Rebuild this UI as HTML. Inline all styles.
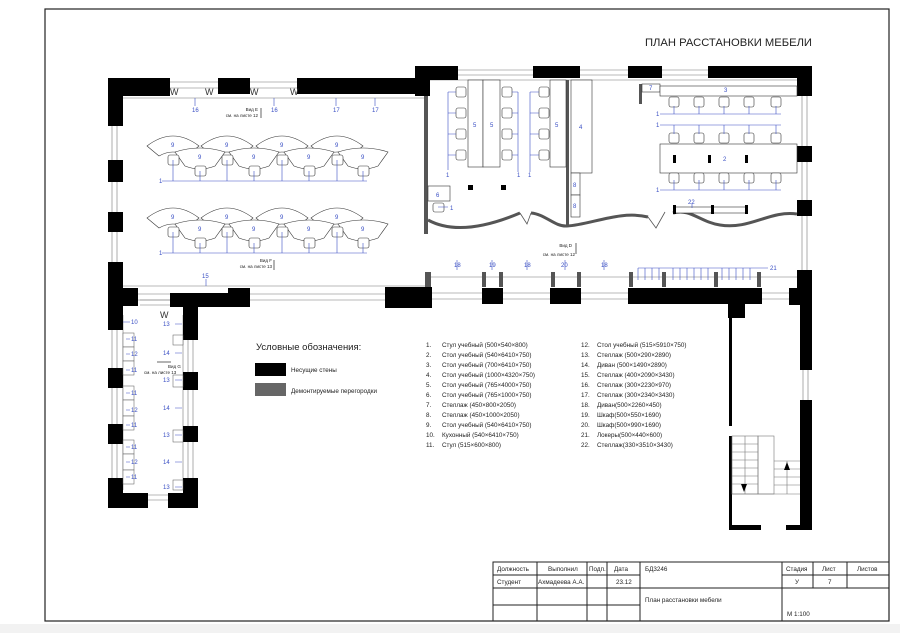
<!DOCTYPE html>
<html><head><meta charset="utf-8"><style>
html,body{margin:0;padding:0;background:#fff}
svg{display:block}
text{font-family:"Liberation Sans","DejaVu Sans",sans-serif}
.b{fill:#3a4fc4;font-size:6px}
.k{fill:#222;font-size:6.3px}
.s{fill:#222;font-size:4.5px}
</style></head><body>
<svg width="900" height="633" viewBox="0 0 900 633" xmlns="http://www.w3.org/2000/svg">
<rect x="0" y="624" width="900" height="9" fill="#f2f2f2"/>
<rect x="45" y="9" width="844" height="612" fill="none" stroke="#222" stroke-width="1.2"/>
<text x="645" y="46" font-size="11" fill="#222" textLength="167" lengthAdjust="spacingAndGlyphs">ПЛАН РАССТАНОВКИ МЕБЕЛИ</text>

<g stroke="#777" stroke-width="0.6" fill="none">
<line x1="108" y1="82" x2="430" y2="82"/><line x1="108" y1="88" x2="430" y2="88"/>
<line x1="415" y1="70" x2="812" y2="70"/><line x1="415" y1="75" x2="812" y2="75"/>
<line x1="112" y1="96" x2="112" y2="300"/><line x1="117" y1="96" x2="117" y2="300"/>
<line x1="802" y1="66" x2="802" y2="300"/><line x1="807" y1="66" x2="807" y2="300"/>
<line x1="123" y1="98" x2="425" y2="98"/>
<line x1="123" y1="286" x2="430" y2="286"/>
<line x1="108" y1="294" x2="430" y2="294"/><line x1="108" y1="300" x2="430" y2="300"/>
<line x1="430" y1="277" x2="797" y2="277"/>
<line x1="430" y1="293" x2="790" y2="293"/><line x1="430" y1="299" x2="790" y2="299"/>
<line x1="430" y1="80" x2="797" y2="80"/>
<line x1="112" y1="305" x2="112" y2="490"/><line x1="117" y1="305" x2="117" y2="490"/>
<line x1="188" y1="305" x2="188" y2="490"/><line x1="193" y1="305" x2="193" y2="490"/>
<line x1="123" y1="315" x2="123" y2="490"/><line x1="183" y1="315" x2="183" y2="490"/>
<line x1="803" y1="370" x2="803" y2="400"/><line x1="808" y1="370" x2="808" y2="400"/>
<line x1="148" y1="495" x2="168" y2="495"/><line x1="148" y1="500" x2="168" y2="500"/>
<line x1="140" y1="300" x2="170" y2="300"/><line x1="140" y1="305" x2="170" y2="305"/>
</g>
<g fill="#000">
<rect x="108" y="78" width="62" height="18"/><rect x="218" y="78" width="32" height="16"/>
<rect x="297" y="78" width="133" height="16"/>
<rect x="415" y="66" width="43" height="14"/><rect x="415" y="66" width="15" height="30"/>
<rect x="533" y="66" width="47" height="12"/><rect x="628" y="66" width="34" height="12"/>
<rect x="708" y="66" width="104" height="12"/><rect x="797" y="66" width="15" height="30"/>
<rect x="108" y="78" width="15" height="48"/><rect x="108" y="160" width="15" height="22"/>
<rect x="108" y="212" width="15" height="20"/><rect x="108" y="262" width="15" height="26"/>
<rect x="797" y="146" width="15" height="16"/><rect x="797" y="200" width="15" height="16"/>
<rect x="797" y="270" width="15" height="35"/>
<rect x="108" y="288" width="30" height="18"/><rect x="170" y="293" width="80" height="14"/>
<rect x="228" y="288" width="22" height="8"/>
<rect x="385" y="287" width="47" height="21"/><rect x="482" y="288" width="21" height="16"/>
<rect x="550" y="288" width="31" height="16"/><rect x="628" y="288" width="134" height="16"/>
<rect x="728" y="304" width="17" height="14"/>
<rect x="789" y="288" width="23" height="17"/>
<rect x="108" y="305" width="15" height="25"/><rect x="183" y="305" width="15" height="35"/>
<rect x="108" y="368" width="15" height="20"/><rect x="183" y="372" width="15" height="18"/>
<rect x="108" y="424" width="15" height="20"/><rect x="183" y="426" width="15" height="16"/>
<rect x="108" y="478" width="15" height="30"/><rect x="183" y="478" width="15" height="30"/>
<rect x="108" y="493" width="40" height="15"/><rect x="168" y="493" width="30" height="15"/>
<rect x="729" y="318" width="3" height="108"/><rect x="729" y="436" width="3" height="94"/>
<rect x="800" y="300" width="12" height="70"/><rect x="800" y="400" width="12" height="130"/>
<rect x="729" y="525" width="32" height="5"/><rect x="786" y="525" width="26" height="5"/>
</g>
<g font-size="9" fill="#333" font-family="Liberation Sans">
<text x="170" y="95">W</text><text x="205" y="95">W</text><text x="250" y="95">W</text><text x="290" y="95">W</text>
<text x="160" y="318">W</text>
</g>
<g fill="#555">
<rect x="424" y="96" width="4" height="138"/><rect x="566" y="80" width="3" height="145"/>
<rect x="639" y="84" width="3" height="20"/>
<rect x="425" y="272" width="6" height="15"/><rect x="482" y="272" width="4" height="15"/><rect x="499" y="272" width="4" height="15"/>
<rect x="551" y="272" width="4" height="15"/><rect x="577" y="272" width="4" height="15"/><rect x="629" y="272" width="4" height="15"/>
<rect x="662" y="272" width="4" height="15"/><rect x="714" y="272" width="4" height="15"/><rect x="757" y="272" width="4" height="15"/>
</g>
<path d="M428 220 C450 232,480 230,520 213 M531 213 C545 214,555 227,567 226 C590 225,620 210,648 217 M673 213 C690 208,700 222,720 225 C750 230,770 210,797 214" fill="none" stroke="#555" stroke-width="3"/>
<path d="M520 213 L527 224 L531 213 M648 217 L656 228 L665 212" fill="none" stroke="#555" stroke-width="0.8"/>

<g fill="#fff" stroke="#333" stroke-width="0.6">
<g id="row">
<path d="M147 146 Q173 126 199 146 L187 156 Q173 148 159 156 Z"/>
<path d="M201 146 Q227 126 253 146 L241 156 Q227 148 213 156 Z"/>
<path d="M256 146 Q282 126 308 146 L296 156 Q282 148 268 156 Z"/>
<path d="M311 146 Q337 126 363 146 L351 156 Q337 148 323 156 Z"/>
<path d="M175 152 Q200 144 225 152 L215 166 Q200 172 185 166 Z"/>
<path d="M229 152 Q254 144 279 152 L269 166 Q254 172 239 166 Z"/>
<path d="M284 152 Q309 144 334 152 L324 166 Q309 172 294 166 Z"/>
<path d="M338 152 Q363 144 388 152 L378 166 Q363 172 348 166 Z"/>
<rect x="168" y="155" width="11" height="10" rx="2"/><rect x="222" y="155" width="11" height="10" rx="2"/>
<rect x="277" y="155" width="11" height="10" rx="2"/><rect x="332" y="155" width="11" height="10" rx="2"/>
<rect x="195" y="166" width="11" height="10" rx="2"/><rect x="249" y="166" width="11" height="10" rx="2"/>
<rect x="304" y="166" width="11" height="10" rx="2"/><rect x="358" y="166" width="11" height="10" rx="2"/>
<path d="M162 181 H367 M173 181 V160 M200 181 V171 M227 181 V160 M254 181 V171 M282 181 V160 M309 181 V171 M337 181 V160 M363 181 V171" stroke="#3a4fc4" fill="none"/>
</g>
<use href="#row" y="72"/>
</g>
<g class="b">
<text x="171" y="147">9</text><text x="225" y="147">9</text><text x="280" y="147">9</text><text x="335" y="147">9</text>
<text x="198" y="159">9</text><text x="252" y="159">9</text><text x="307" y="159">9</text><text x="361" y="159">9</text>
<text x="171" y="219">9</text><text x="225" y="219">9</text><text x="280" y="219">9</text><text x="335" y="219">9</text>
<text x="198" y="231">9</text><text x="252" y="231">9</text><text x="307" y="231">9</text><text x="361" y="231">9</text>
<text x="159" y="183">1</text><text x="159" y="255">1</text>
<text x="192" y="112">16</text><text x="271" y="112">16</text><text x="333" y="112">17</text><text x="372" y="112">17</text>
<text x="202" y="278">15</text>
</g>
<path d="M195 98V106 M274 98V106 M336 98V106 M375 98V106 M206 279V286" stroke="#3a4fc4" stroke-width="0.6"/>
<text class="s" x="258" y="111" text-anchor="end">Вид E</text><text class="s" x="258" y="117" text-anchor="end">см. на листе 12</text>
<path d="M261 108V118" stroke="#000" stroke-width="0.6"/>
<text class="s" x="272" y="262" text-anchor="end">Вид F</text><text class="s" x="272" y="268" text-anchor="end">см. на листе 13</text>
<path d="M274 260V270" stroke="#000" stroke-width="0.6"/>

<g fill="#fff" stroke="#333" stroke-width="0.6">
<rect x="468" y="80" width="15" height="87"/><rect x="483" y="80" width="17" height="87"/><rect x="550" y="80" width="16" height="87"/>
<rect x="571" y="80" width="21" height="93"/><rect x="571" y="173" width="9" height="22"/><rect x="571" y="195" width="9" height="22"/>
<rect x="428" y="186" width="22" height="15"/><rect x="433" y="203" width="11" height="9" rx="2"/>
<g id="ch"><rect x="456" y="87" width="10" height="10" rx="2"/><rect x="456" y="108" width="10" height="10" rx="2"/><rect x="456" y="129" width="10" height="10" rx="2"/><rect x="456" y="150" width="10" height="10" rx="2"/></g>
<use href="#ch" x="46"/><use href="#ch" x="83"/>
<rect x="642" y="84" width="18" height="8"/>
<rect x="660" y="86" width="137" height="10"/><rect x="660" y="144" width="137" height="29"/>
<g id="rc"><rect x="669" y="97" width="10" height="10" rx="2"/><rect x="694" y="97" width="10" height="10" rx="2"/><rect x="719" y="97" width="10" height="10" rx="2"/><rect x="744" y="97" width="10" height="10" rx="2"/><rect x="771" y="97" width="10" height="10" rx="2"/></g>
<use href="#rc" y="36"/><use href="#rc" y="76"/>
<rect x="674" y="207" width="72" height="6"/>
</g>
<path d="M448 92V170 M448 92H456 M448 113H456 M448 134H456 M448 155H456 M518 92V172 M512 92H518 M512 113H518 M512 134H518 M512 155H518 M530 92V172 M530 92H539 M530 113H539 M530 134H539 M530 155H539 M438 207H448
M660 114H781 M674 114V106 M699 114V106 M724 114V106 M749 114V106 M776 114V106
M660 125H781 M674 125V134 M699 125V134 M724 125V134 M749 125V134 M776 125V134
M660 190H781 M674 190V180 M699 190V180 M724 190V180 M749 190V180 M776 190V180 M692 203V208
M457 260V270 M492 260V270 M527 260V270 M565 260V270 M604 260V270
M638 268H768 M638 268V280 M645 268V280 M652 268V280 M659 268V280 M673 268V280 M680 268V280 M687 268V280 M694 268V280 M701 268V280 M708 268V280 M722 268V280 M729 268V280 M736 268V280 M743 268V280 M750 268V280" stroke="#3a4fc4" stroke-width="0.6" fill="none"/>
<g fill="#000">
<rect x="468" y="185" width="5" height="5"/><rect x="501" y="185" width="5" height="5"/>
<rect x="673" y="155" width="3" height="8"/><rect x="708" y="155" width="3" height="8"/><rect x="745" y="155" width="3" height="8"/>
<rect x="673" y="205" width="3" height="9"/><rect x="711" y="205" width="3" height="9"/><rect x="745" y="205" width="3" height="9"/>
</g>
<g class="b">
<text x="473" y="127">5</text><text x="490" y="127">5</text><text x="555" y="127">5</text><text x="579" y="129" >4</text>
<text x="573" y="187">8</text><text x="573" y="208">8</text><text x="436" y="197">6</text><text x="450" y="210">1</text>
<text x="446" y="177">1</text><text x="517" y="177">1</text><text x="528" y="177">1</text>
<text x="649" y="90">7</text><text x="724" y="92">3</text><text x="656" y="116">1</text><text x="656" y="127">1</text>
<text x="723" y="161">2</text><text x="656" y="192">1</text><text x="688" y="204">22</text>
<text x="454" y="267">18</text><text x="489" y="267">19</text><text x="524" y="267">18</text><text x="561" y="267">20</text><text x="601" y="267">18</text>
<text x="770" y="270">21</text>
</g>
<text class="s" x="572" y="247" text-anchor="end">Вид D</text><text class="s" x="575" y="256" text-anchor="end">см. на листе 12</text>
<path d="M576 243V254" stroke="#000" stroke-width="0.6"/>

<g fill="#fff" stroke="#555" stroke-width="0.5">
<rect x="123" y="333" width="11" height="14"/><rect x="123" y="347" width="11" height="14"/><rect x="123" y="361" width="11" height="14"/>
<rect x="123" y="386" width="11" height="14"/><rect x="123" y="400" width="11" height="16"/><rect x="123" y="416" width="11" height="14"/>
<rect x="123" y="440" width="11" height="14"/><rect x="123" y="454" width="11" height="16"/><rect x="123" y="470" width="11" height="14"/>
<rect x="173" y="335" width="10" height="10"/><rect x="173" y="375" width="10" height="12"/><rect x="173" y="430" width="10" height="12"/><rect x="173" y="480" width="10" height="10"/>
</g>
<path d="M123 322H130 M126 339H130 M126 354H130 M126 370H130 M126 393H130 M126 410H130 M126 425H130 M126 447H130 M126 462H130 M126 477H130 M175 324H182 M175 353H182 M175 380H182 M175 408H182 M175 435H182 M175 462H182 M175 487H182" stroke="#3a4fc4" stroke-width="0.6"/>
<g class="b">
<text x="131" y="324">10</text><text x="131" y="341">11</text><text x="131" y="356">12</text><text x="131" y="372">11</text>
<text x="131" y="395">11</text><text x="131" y="412">12</text><text x="131" y="427">11</text><text x="131" y="449">11</text>
<text x="131" y="464">12</text><text x="131" y="479">11</text>
<text x="163" y="326">13</text><text x="163" y="355">14</text><text x="163" y="382">13</text><text x="163" y="410">14</text>
<text x="163" y="437">13</text><text x="163" y="464">14</text><text x="163" y="489">13</text>
</g>
<text class="s" x="168" y="368">Вид G</text><text class="s" x="144" y="374">см. на листе 13</text>
<path d="M157 362H171" stroke="#000" stroke-width="0.6"/>

<g stroke="#777" stroke-width="0.6" fill="none">
<rect x="732" y="436" width="26" height="58"/><rect x="758" y="436" width="16" height="58"/>
<path d="M732 444H758 M732 452H758 M732 460H758 M732 468H758 M732 476H758 M732 484H758 M745 436V494 M774 461H800 M774 469H800 M774 477H800 M774 485H800 M774 494H800 M787 461V494 M732 494H800"/>
</g>
<path d="M741 484L744 492 747 484Z M784 470L787 462 790 470Z" fill="#000"/>

<text x="256" y="350" font-size="9.5" fill="#222">Условные обозначения:</text>
<rect x="255" y="363" width="31" height="13" fill="#000"/><rect x="255" y="383" width="31" height="13" fill="#666"/>
<text x="291" y="372" class="k" font-size="6">Несущие стены</text><text x="291" y="393" class="k" font-size="6">Демонтируемые перегородки</text>
<g class="k">
<text x="426" y="347">1.</text><text x="442" y="347">Стул учебный (500×540×800)</text>
<text x="426" y="357">2.</text><text x="442" y="357">Стол учебный (540×6410×750)</text>
<text x="426" y="367">3.</text><text x="442" y="367">Стол учебный (700×6410×750)</text>
<text x="426" y="377">4.</text><text x="442" y="377">Стол учебный (1000×4320×750)</text>
<text x="426" y="387">5.</text><text x="442" y="387">Стол учебный (765×4000×750)</text>
<text x="426" y="397">6.</text><text x="442" y="397">Стол учебный (765×1000×750)</text>
<text x="426" y="407">7.</text><text x="442" y="407">Стеллаж (450×800×2050)</text>
<text x="426" y="417">8.</text><text x="442" y="417">Стеллаж (450×1000×2050)</text>
<text x="426" y="427">9.</text><text x="442" y="427">Стол учебный (540×6410×750)</text>
<text x="426" y="437">10.</text><text x="442" y="437">Кухонный (540×6410×750)</text>
<text x="426" y="447">11.</text><text x="442" y="447">Стул (515×600×800)</text>
<text x="581" y="347">12.</text><text x="597" y="347">Стол учебный (515×5910×750)</text>
<text x="581" y="357">13.</text><text x="597" y="357">Стеллаж (500×290×2890)</text>
<text x="581" y="367">14.</text><text x="597" y="367">Диван (500×1490×2890)</text>
<text x="581" y="377">15.</text><text x="597" y="377">Стеллаж (400×2090×3430)</text>
<text x="581" y="387">16.</text><text x="597" y="387">Стеллаж (300×2230×970)</text>
<text x="581" y="397">17.</text><text x="597" y="397">Стеллаж (300×2340×3430)</text>
<text x="581" y="407">18.</text><text x="597" y="407">Диван(500×2260×450)</text>
<text x="581" y="417">19.</text><text x="597" y="417">Шкаф(500×550×1690)</text>
<text x="581" y="427">20.</text><text x="597" y="427">Шкаф(500×990×1690)</text>
<text x="581" y="437">21.</text><text x="597" y="437">Локеры(500×440×600)</text>
<text x="581" y="447">22.</text><text x="597" y="447">Стеллаж(330×3510×3430)</text>
</g>

<g stroke="#222" stroke-width="1" fill="none">
<rect x="493" y="562" width="396" height="59"/>
<path d="M493 575H640 M493 588H889 M493 605H640 M782 575H889 M537 562V621 M587 562V621 M607 562V621 M640 562V621 M782 562V621 M813 562V588 M847 562V588"/>
</g>
<g class="k" font-size="5.8">
<text x="497" y="571">Должность</text><text x="548" y="571">Выполнил</text><text x="589" y="571">Подп.</text><text x="614" y="571">Дата</text>
<text x="645" y="571">БД3246</text><text x="786" y="571">Стадия</text><text x="822" y="571">Лист</text><text x="857" y="571">Листов</text>
<text x="497" y="584">Студент</text><text x="538" y="584">Ахмадеева А.А.</text><text x="616" y="584">23.12</text>
<text x="795" y="584">У</text><text x="828" y="584">7</text>
<text x="645" y="602">План расстановки мебели</text><text x="787" y="616">М 1:100</text>
</g>
</svg>
</body></html>
